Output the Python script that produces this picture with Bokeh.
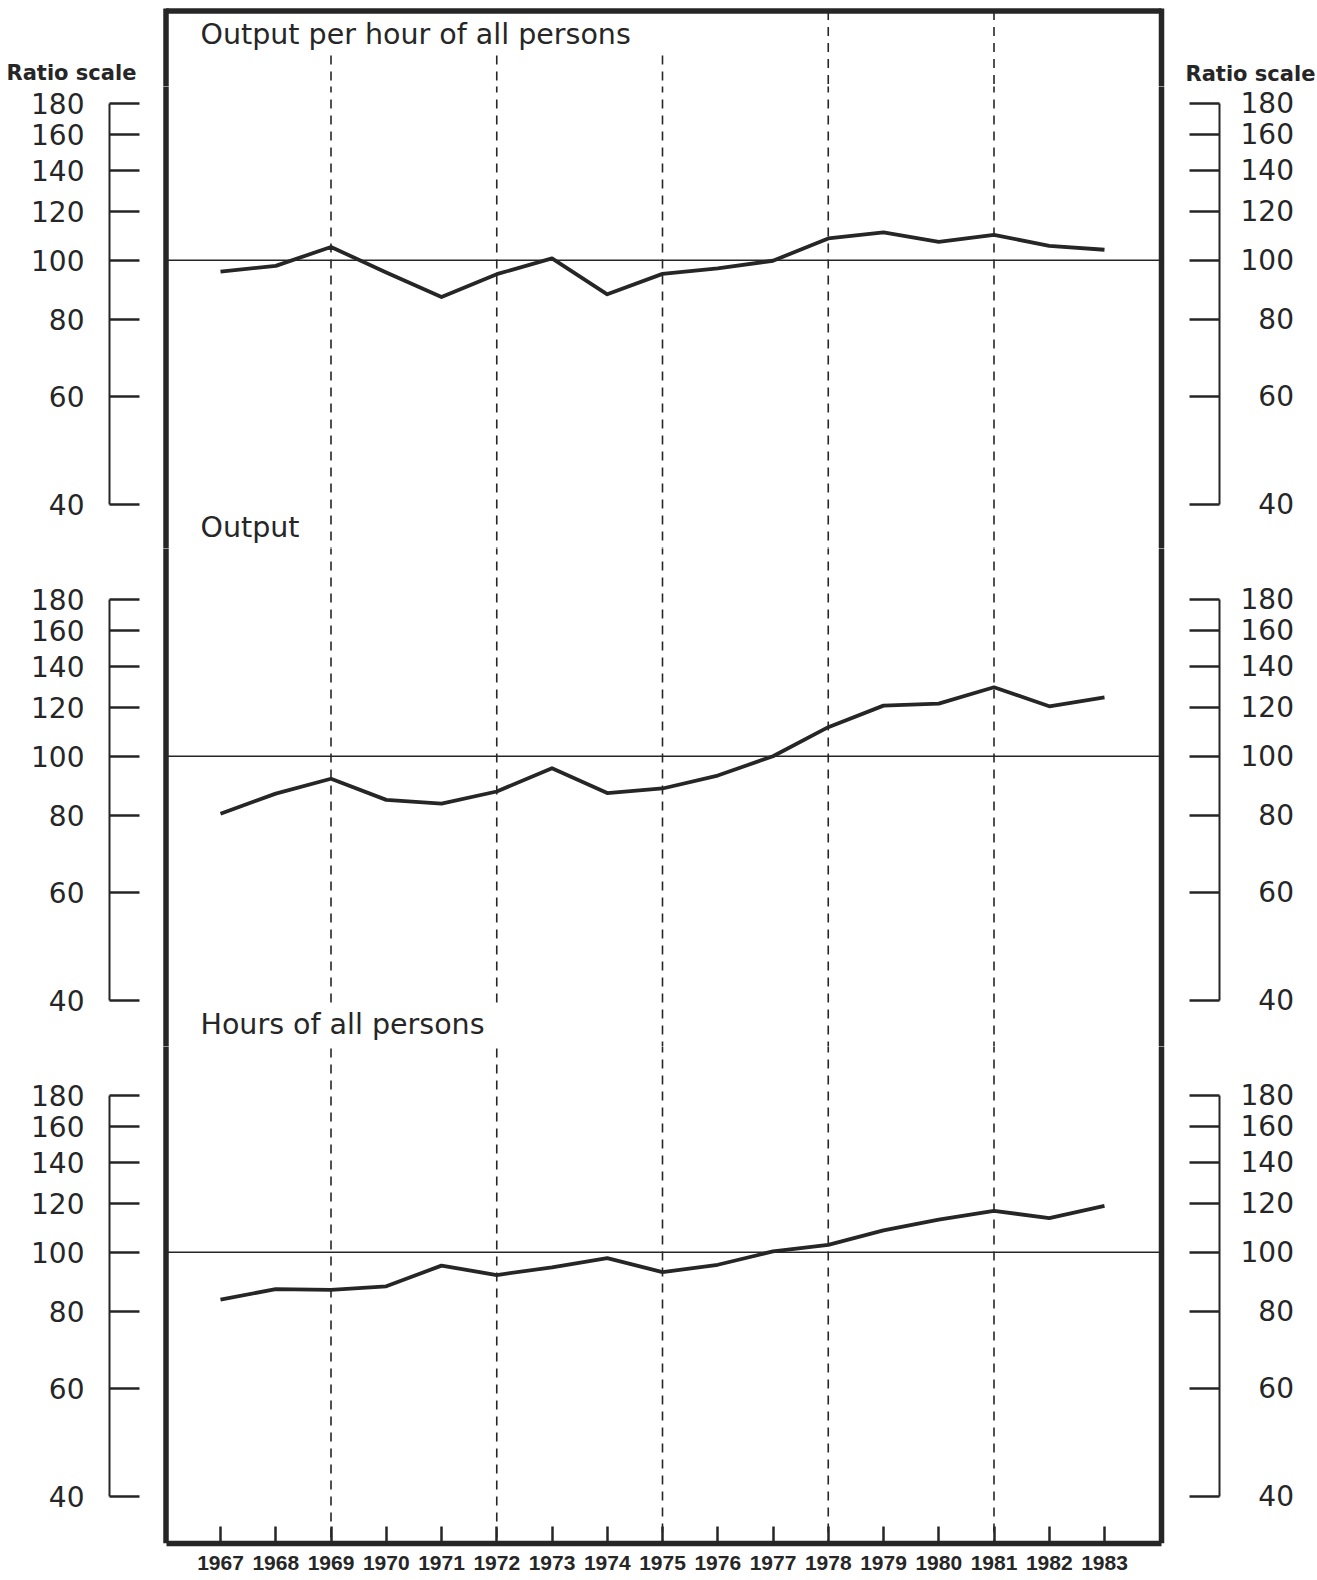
import math
from bokeh.plotting import figure
from bokeh.models import (Range1d, LogAxis, FixedTicker, Label,
                          CustomJSTickFormatter, ColumnDataSource)
from bokeh.layouts import column
from bokeh.embed import file_html
from bokeh.resources import INLINE

# ---------------- data ----------------
years = list(range(1967, 1984))
output_per_hour = [95.8, 97.9, 105.1, 95.5, 87.1, 94.9, 100.7, 88.0, 95.0,
                   97.0, 99.8, 108.5, 111.0, 107.1, 110.0, 105.5, 104.0]
output = [80.6, 86.9, 91.9, 84.9, 83.7, 87.6, 95.6, 87.1, 88.6,
          93.0, 100.0, 111.5, 120.9, 121.8, 129.5, 120.6, 124.7]
hours = [83.7, 87.1, 86.8, 88.0, 95.1, 91.8, 94.5, 97.8, 92.8,
         95.4, 100.3, 102.8, 108.5, 113.0, 116.8, 113.6, 119.0]
panel_titles = ["Output per hour of all persons", "Output", "Hours of all persons"]
ratio_ticks = [40, 60, 80, 100, 120, 140, 160, 180]
marker_years = [1969, 1972, 1975, 1978, 1981]
base_value = 100
scale_text = "Ratio scale"

# ---------------- layout (page pixels, page origin at 0,0) ----------------
INK = "#262626"
W = 1317
PX_PER_YEAR = 55.25
X_FIRST_PAGE = 220.0
TEXT_SHIFT = 11  # rendered baseline sits lower than requested
TITLE_SIZE = "28.5px"


def yr(px):
    return years[0] + (px - X_FIRST_PAGE) / PX_PER_YEAR


PLOT_L, PLOT_R = 109, 1219
FRAME_L, FRAME_R = yr(165.5), yr(1161)
FRAME_TOP, FRAME_BOTTOM = 10.5, 1543

marker_extents = {
    1969: [(55, 1003), (1048, FRAME_BOTTOM)],
    1972: [(55, 1003), (1048, FRAME_BOTTOM)],
    1975: [(55, FRAME_BOTTOM)],
    1978: [(FRAME_TOP, FRAME_BOTTOM)],
    1981: [(FRAME_TOP, FRAME_BOTTOM)],
}

STRIP_BOTTOM = 86
panels = [
    dict(series=output_per_hour, top=STRIP_BOTTOM, bottom=548, y180=103, y40=504, mb=0),
    dict(series=output, top=548, bottom=1046, y180=599, y40=1000, mb=0),
    dict(series=hours, top=1046, bottom=FRAME_BOTTOM, y180=1095, y40=1496, mb=36),
]


def add_vertical_pieces(p, conv, top, bottom):
    # pieces run a little past the canvas edges so joins stay seamless
    xs, y0s, y1s = [], [], []
    for my in marker_years:
        for a, b in marker_extents[my]:
            a2, b2 = max(a, top), min(b, bottom)
            if b2 > a2:
                a3 = a2 - 3 if a2 == top else a2
                b3 = b2 + 3 if (b2 == bottom and b2 < FRAME_BOTTOM) else b2
                xs.append(my); y0s.append(conv(a3)); y1s.append(conv(b3))
    src = ColumnDataSource(dict(x=xs, y0=y0s, y1=y1s))
    p.segment(x0="x", x1="x", y0="y0", y1="y1", source=src,
              line_dash="9 7", line_width=1.6, line_color=INK)
    a2 = max(8, top - 3)
    b2 = bottom + 3 if bottom < FRAME_BOTTOM else bottom
    p.segment(x0=[FRAME_L, FRAME_R], x1=[FRAME_L, FRAME_R],
              y0=[conv(a2)] * 2, y1=[conv(b2)] * 2,
              line_width=5.5, line_color=INK)


figs = []

# ---- top strip: frame top, main title, "Ratio scale" notes ----
can_unalign = "frame_align" in figure.properties()
if can_unalign:
    sx0, sx1, mbl, mbr = 0, W, 0, 0
else:
    sx0, sx1, mbl, mbr = PLOT_L, PLOT_R, PLOT_L, W - PLOT_R
strip = figure(width=W, height=STRIP_BOTTOM,
               x_range=Range1d(yr(sx0), yr(sx1)), y_range=Range1d(STRIP_BOTTOM, 0),
               x_axis_location=None, y_axis_location=None,
               output_backend="svg", toolbar_location=None,
               min_border_left=mbl, min_border_right=mbr,
               min_border_top=0, min_border_bottom=0, outline_line_color=None,
               background_fill_color="white", border_fill_color="white")
if can_unalign:
    strip.frame_align = False
strip.grid.grid_line_color = None
ident = lambda py: py
add_vertical_pieces(strip, ident, 0, STRIP_BOTTOM)
strip.segment(x0=[FRAME_L], x1=[FRAME_R], y0=[FRAME_TOP], y1=[FRAME_TOP],
              line_width=5.5, line_color=INK)
strip.add_layout(Label(x=yr(200), y=45 - TEXT_SHIFT, text=panel_titles[0],
                       text_font="DejaVu Sans", text_font_size=TITLE_SIZE,
                       text_color=INK, text_baseline="alphabetic"))
for px, py in ((6, 72), (1185, 73)):
    strip.add_layout(Label(x=yr(px), y=py, text=scale_text,
                           text_font="DejaVu Sans", text_font_style="bold",
                           text_font_size="21px", text_color=INK,
                           text_baseline="alphabetic"))
figs.append(strip)

# ---- three ratio-scale panels ----
title_spots = {0: (panel_titles[1], 538), 1: (panel_titles[2], 1035)}

for i, pn in enumerate(panels):
    k = (pn["y40"] - pn["y180"]) / math.log(ratio_ticks[-1] / ratio_ticks[0])

    def v(py, pn=pn, k=k):
        return ratio_ticks[-1] * math.exp((pn["y180"] - py) / k)

    last = i == len(panels) - 1
    h = pn["bottom"] - pn["top"] + pn["mb"]
    p = figure(width=W, height=h,
               x_range=Range1d(yr(PLOT_L), yr(PLOT_R)),
               y_range=Range1d(v(pn["bottom"]), v(pn["top"])),
               y_axis_type="log",
               x_axis_location="below" if last else None,
               output_backend="svg", toolbar_location=None,
               min_border_left=PLOT_L, min_border_right=W - PLOT_R,
               min_border_top=0, min_border_bottom=pn["mb"],
               outline_line_color=None, background_fill_color="white",
               border_fill_color="white")
    p.grid.grid_line_color = None

    right = LogAxis()
    p.add_layout(right, "right")
    for ax, side in ((p.yaxis[0], "left"), (right, "right")):
        ax.ticker = FixedTicker(ticks=ratio_ticks, minor_ticks=[])
        ax.bounds = (ratio_ticks[0], ratio_ticks[-1])
        ax.major_tick_in = 30
        ax.major_tick_out = 0
        ax.minor_tick_line_color = None
        ax.axis_line_width = 2
        ax.axis_line_color = INK
        ax.major_tick_line_width = 2.5
        ax.major_tick_line_color = INK
        ax.major_label_text_font = "DejaVu Sans"
        ax.major_label_text_font_size = "28px"
        ax.major_label_text_color = INK
        if side == "left":
            ax.major_label_standoff = 25
            ax.formatter = CustomJSTickFormatter(code="return tick.toFixed(0);")
        else:
            ax.major_label_standoff = 21
            ax.formatter = CustomJSTickFormatter(
                code="return (tick < 100 ? '\\u2007' : '') + tick.toFixed(0);")

    if last:
        xa = p.xaxis[0]
        xa.ticker = FixedTicker(ticks=years, minor_ticks=[])
        xa.bounds = (FRAME_L, FRAME_R)
        xa.axis_line_width = 5.5
        xa.axis_line_color = INK
        xa.major_tick_in = 17
        xa.major_tick_out = 0
        xa.major_tick_line_width = 2.5
        xa.major_tick_line_color = INK
        xa.minor_tick_line_color = None
        xa.major_label_text_font = "Liberation Sans"
        xa.major_label_text_font_style = "bold"
        xa.major_label_text_font_size = "21px"
        xa.major_label_text_color = INK
        xa.major_label_standoff = 12
        xa.formatter = CustomJSTickFormatter(code="return tick.toFixed(0);")

    add_vertical_pieces(p, v, pn["top"], pn["bottom"])

    p.segment(x0=[FRAME_L], x1=[FRAME_R], y0=[base_value], y1=[base_value],
              line_width=1.6, line_color=INK)

    p.line(years, pn["series"], line_width=3.8, line_color=INK,
           line_join="round")

    if i in title_spots:
        txt, base_py = title_spots[i]
        p.add_layout(Label(x=yr(200), y=v(base_py - TEXT_SHIFT), text=txt,
                           text_font="DejaVu Sans", text_font_size=TITLE_SIZE,
                           text_color=INK, text_baseline="alphabetic"))
    figs.append(p)

layout = column(*figs, spacing=0)
open("out.html", "w").write(file_html(layout, INLINE))
